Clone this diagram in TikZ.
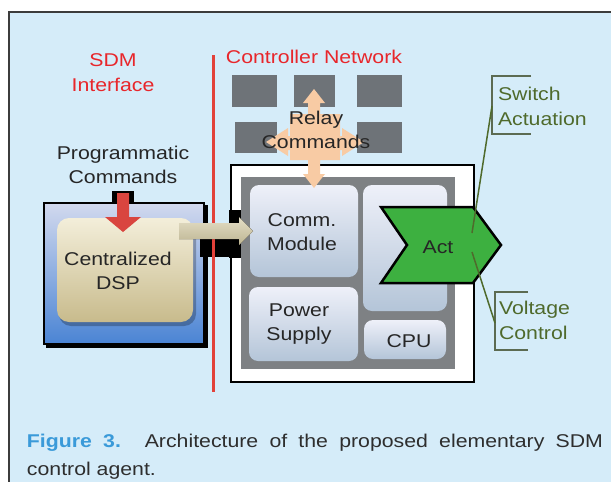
\documentclass[tikz,border=0pt]{standalone}
\usepackage{fontspec}
\setmainfont{Liberation Sans}[FakeStretch=1.15]
\usetikzlibrary{calc}
\definecolor{panelbg}{HTML}{D5ECF9}
\definecolor{panelborder}{HTML}{3C3C3C}
\definecolor{sdmred}{HTML}{E8262B}
\definecolor{linered}{HTML}{E2413A}
\definecolor{sqgray}{HTML}{6E7378}
\definecolor{peach}{HTML}{F8CBA4}
\definecolor{innergray}{HTML}{7E8184}
\definecolor{modtop}{HTML}{EEF0F9}
\definecolor{modbot}{HTML}{B4C5D8}
\definecolor{actgreen}{HTML}{3DB040}
\definecolor{olive}{HTML}{4F6A2C}
\definecolor{brack}{HTML}{5C6B52}
\definecolor{dsptop}{HTML}{D2D9EE}
\definecolor{dspbot}{HTML}{4A84D4}
\definecolor{beigetop}{HTML}{F3EEDA}
\definecolor{beigebot}{HTML}{C8BB8C}
\definecolor{arrred}{HTML}{D9453F}
\definecolor{arrbeigetop}{HTML}{E4DEC6}
\definecolor{arrbeigebot}{HTML}{BDB592}
\definecolor{figblue}{HTML}{3A9AD9}
\definecolor{captxt}{HTML}{2E2E2E}
\begin{document}
\begin{tikzpicture}[x=1pt,y=-1pt,
  every node/.style={inner sep=0pt, outer sep=0pt},
  lbl/.style={align=center, font=\fontsize{18.5}{24.5}\selectfont, text=black!85},
  redlbl/.style={lbl, text=sdmred},
  olivelbl/.style={align=left, font=\fontsize{18.5}{25}\selectfont, text=olive},
  modbox/.style={rounded corners=9pt, top color=modtop, bottom color=modbot},
  sq/.style={fill=sqgray},
  brackline/.style={draw=brack, line width=2pt},
  slantline/.style={draw=olive, line width=1.5pt}]
\useasboundingbox (0,0) rectangle (611,482);
% panel
\fill[white] (0,0) rectangle (611,482);
\draw[panelborder, line width=1.5pt, fill=panelbg] (9,12) rectangle (640,500);

% titles
\node[redlbl] (sdm) at (113,72.5) {SDM\\Interface};
\node[redlbl] (cnet) at (314,57) {Controller Network};

% network squares
\fill[sq] (232,75) rectangle (277,107);
\fill[sq] (294,75) rectangle (335,107);
\fill[sq] (357,75) rectangle (402,107);
\fill[sq] (235,122) rectangle (277,153);
\fill[sq] (357,122) rectangle (402,153);

% DSP outer box
\fill[black] (46,205) rectangle (208,348);
\node[draw=black, line width=2.5pt, top color=dsptop, bottom color=dspbot,
      minimum width=160pt, minimum height=141pt] (dspo) at (124,273.5) {};
\fill[black, opacity=0.25, rounded corners=12pt] (59,222) rectangle (196,326);
\node[rounded corners=12pt, top color=beigetop, bottom color=beigebot,
      minimum width=136pt, minimum height=104pt] (dsp) at (125,270) {};
\node[lbl] (dsptext) at (118,271) {Centralized\\DSP};

% programmatic commands and red arrow
\node[lbl] (prog) at (123,165) {Programmatic\\Commands};
\fill[black] (112,191) rectangle (134,204);
\fill[arrred] (117,193) -- (129,193) -- (129,217) -- (141,217) -- (123,232)
   -- (105,217) -- (117,217) -- cycle;

% white agent box and gray interior
\node[draw=black, line width=2.2pt, fill=white,
      minimum width=243pt, minimum height=217pt] (agent) at (352.5,273.5) {};
\node[fill=innergray, minimum width=214pt, minimum height=192pt] (core) at (348,273) {};

% port shadow, red line, beige arrow
\fill[black] (200,238) rectangle (230,257);
\fill[black] (229,210) rectangle (241,258);
\draw[linered, line width=3pt] (213,55) -- (213,392);

% modules
\node[modbox, minimum width=108pt, minimum height=92pt] (comm) at (304,231) {};
\node[lbl] (commtext) at (302,232) {Comm.\\Module};
\node[modbox, minimum width=84pt, minimum height=126pt] (actbg) at (405,248) {};
\node[modbox, minimum width=109pt, minimum height=74pt] (power) at (303.5,324) {};
\node[lbl] (powertext) at (299,324) {Power\\Supply};
\node[modbox, minimum width=82pt, minimum height=39pt] (cpu) at (405,339.5) {};
\node[lbl] (cputext) at (409,341) {CPU};

% beige arrow DSP -> Comm
\coordinate (bstart) at ($(dsp.east |- comm.west)+(-14,0)$);
\coordinate (bend) at ($(comm.west)+(3,0)$);
\fill[top color=arrbeigetop, bottom color=arrbeigebot]
  ($(bstart)+(0,-8)$) -- ($(bend)+(-14,-8)$) -- ($(bend)+(-14,-14)$) -- (bend)
  -- ($(bend)+(-14,14)$) -- ($(bend)+(-14,8)$) -- ($(bstart)+(0,8)$) -- cycle;

% orange relay arrow
\fill[peach] (314,89) -- (325,103) -- (320,103) -- (320,114) -- (340,114) -- (340,136)
  -- (342,136) -- (342,128) -- (364,142) -- (342,156) -- (342,150) -- (340,150)
  -- (340,160) -- (320,160) -- (320,174) -- (325,174) -- (314,188) -- (303,174)
  -- (308,174) -- (308,160) -- (290,160) -- (290,150) -- (288,150) -- (288,156)
  -- (266,142) -- (288,128) -- (288,136) -- (290,136) -- (290,114) -- (308,114)
  -- (308,103) -- (303,103) -- cycle;
\node[lbl] (relay) at (316,130) {Relay\\Commands};

% Act shape
\draw[fill=actgreen, draw=black, line width=2.5pt, line join=miter]
  (381,207) -- (473,207) -- (501,245) -- (473,283) -- (381,283) -- (407,245) -- cycle;
\node[lbl] (act) at (438,247) {Act};

% output labels
\coordinate (swtop) at (531,76);
\coordinate (swbot) at (531,134);
\draw[brackline] (swtop) -- (492,76) -- (492,134) -- (swbot);
\coordinate (swjoin) at (492,106);
\draw[slantline] (472,233) -- (swjoin);
\node[olivelbl, anchor=west] (switch) at (498,106) {Switch\\Actuation};

\coordinate (vctop) at (528,292);
\coordinate (vcbot) at (528,350);
\draw[brackline] (vctop) -- (495,292) -- (495,350) -- (vcbot);
\coordinate (vcjoin) at (495,323);
\draw[slantline] (472,252) -- (vcjoin);
\node[olivelbl, anchor=west] (volt) at (499,320) {Voltage\\Control};

% caption
\node[anchor=base west, font=\fontsize{18.5}{28}\selectfont, text=captxt] (cap1) at (27,447.5)
  {\makebox[576pt][s]{\textcolor{figblue}{\bfseries Figure 3.} Architecture of the proposed elementary SDM}};
\node[anchor=base west, font=\fontsize{18.5}{28}\selectfont, text=captxt] (cap2) at (27,475.5)
  {control agent.};
\end{tikzpicture}
\end{document}
